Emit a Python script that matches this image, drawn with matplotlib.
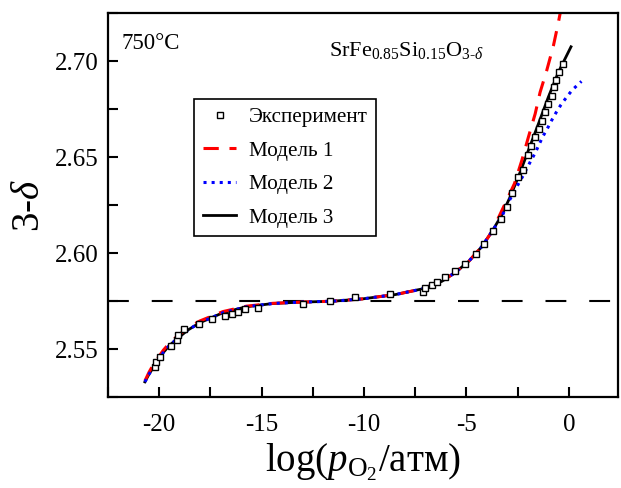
import matplotlib
matplotlib.use('Agg')
import matplotlib.pyplot as plt
from matplotlib.ticker import MultipleLocator

plt.rcParams['font.family'] = ['Liberation Serif', 'DejaVu Serif']
plt.rcParams['mathtext.fontset'] = 'custom'
plt.rcParams['mathtext.rm'] = 'Liberation Serif'
plt.rcParams['mathtext.it'] = 'Liberation Serif:italic'

exp_x = [-20.20, -20.14, -19.97, -19.41, -19.14, -19.08, -18.77, -18.08, -17.44, -16.81,
         -16.46, -16.13, -15.81, -15.17, -12.99, -11.66, -10.45, -8.73, -7.10, -7.04,
         -6.69, -6.43, -6.02, -5.54, -5.06, -4.54, -4.13, -3.71, -3.32, -3.03,
         -2.78, -2.46, -2.22, -1.99, -1.82, -1.65, -1.47, -1.32, -1.17, -0.99,
         -0.82, -0.74, -0.63, -0.49, -0.30]
exp_y = [2.5405, 2.5434, 2.5462, 2.5517, 2.5548, 2.5572, 2.5607, 2.5633, 2.5655, 2.5672,
         2.5686, 2.5695, 2.5707, 2.5717, 2.5733, 2.5750, 2.5773, 2.5785, 2.5797, 2.5817,
         2.5833, 2.5848, 2.5874, 2.5905, 2.5945, 2.5997, 2.6049, 2.6116, 2.6177, 2.6239,
         2.6315, 2.6398, 2.6434, 2.6514, 2.6558, 2.6605, 2.6648, 2.6691, 2.6734, 2.6778,
         2.6817, 2.6864, 2.6904, 2.6945, 2.6985]

# model curves (traced)
m1_x = [-20.70, -20.50, -20.29, -19.80, -19.50, -19.15, -18.60, -18.02, -16.89, -15.75,
        -14.46, -13.16, -11.54, -10.08, -8.45, -7.16, -6.19, -5.54, -4.89, -4.24,
        -3.75, -3.10, -2.65, -2.29, -1.97, -1.64, -1.40, -1.08, -0.75, -0.51, -0.40]
m1_y = [2.5335, 2.5380, 2.5420, 2.5495, 2.5532, 2.5565, 2.5612, 2.5647, 2.5696, 2.5724,
        2.5739, 2.5745, 2.5750, 2.5762, 2.5785, 2.5814, 2.5854, 2.5900, 2.5957, 2.6035,
        2.6113, 2.6260, 2.6363, 2.6484, 2.6605, 2.6726, 2.6838, 2.6950, 2.7080, 2.7200, 2.7260]

m2_x = [-20.70, -20.50, -20.29, -19.80, -19.50, -19.15, -18.60, -18.02, -16.89, -15.75,
        -14.46, -13.16, -11.54, -10.08, -8.45, -7.16, -6.19, -5.54, -4.89, -4.24,
        -3.75, -3.27, -2.94, -2.70, -2.49, -2.26, -2.05, -1.84, -1.64, -1.45, -1.26,
        -1.05, -0.84, -0.61, -0.38, -0.11, 0.17, 0.62]
m2_y = [2.5330, 2.5370, 2.5405, 2.5483, 2.5520, 2.5552, 2.5600, 2.5638, 2.5690, 2.5721,
        2.5738, 2.5745, 2.5750, 2.5762, 2.5785, 2.5814, 2.5854, 2.5900, 2.5957, 2.6035,
        2.6113, 2.6190, 2.6268, 2.6312, 2.6355, 2.6398, 2.6441, 2.6484, 2.6522, 2.6566, 2.6609,
        2.6648, 2.6691, 2.6734, 2.6773, 2.6812, 2.6850, 2.6895]

m3_x = [-20.70, -20.50, -20.29, -19.80, -19.50, -19.15, -18.60, -18.02, -16.89, -15.75,
        -14.46, -13.16, -11.54, -10.08, -8.45, -7.16, -6.19, -5.54, -4.89, -4.24,
        -3.75, -3.27, -2.86, -2.46, -1.97, -1.48, -1.00, -0.51, 0.11]
m3_y = [2.5330, 2.5370, 2.5405, 2.5483, 2.5520, 2.5552, 2.5600, 2.5638, 2.5690, 2.5721,
        2.5738, 2.5745, 2.5750, 2.5762, 2.5785, 2.5814, 2.5854, 2.5900, 2.5957, 2.6035,
        2.6113, 2.6199, 2.6294, 2.6398, 2.6536, 2.6674, 2.6812, 2.6942, 2.7075]

ref_level = 2.575

fig = plt.figure(figsize=(6.21, 4.88), dpi=100)
ax = fig.add_axes([0.174, 0.186, 0.821, 0.787])

ax.axhline(ref_level, color='black', lw=1.5, dashes=(10, 11))
ax.plot(m3_x, m3_y, color='black', lw=2, label='Модель 3')
ax.plot(m1_x, m1_y, color='red', lw=2.2, dashes=(5, 3.5), label='Модель 1')
ax.plot(m2_x, m2_y, color='blue', lw=2.2, ls=':', label='Модель 2')
ax.plot(exp_x, exp_y, ls='none', marker='s', ms=5, mfc='white', mec='black', mew=1,
        label='Эксперимент')

ax.set_xlim(-22.5, 2.4)
ax.set_ylim(2.525, 2.725)
ax.xaxis.set_major_locator(MultipleLocator(5))
ax.xaxis.set_minor_locator(MultipleLocator(2.5))
ax.yaxis.set_major_locator(MultipleLocator(0.05))
ax.yaxis.set_minor_locator(MultipleLocator(0.025))
ax.yaxis.set_major_formatter(plt.FormatStrFormatter('%.2f'))
ax.xaxis.set_major_formatter(plt.FuncFormatter(lambda v, p: '%d' % v if v != 0 else '0'))
ax.tick_params(which='both', direction='in', length=7, width=1.5, labelsize=18,
               top=False, right=False)
ax.tick_params(axis='y', pad=7)
ax.tick_params(axis='x', pad=12)
for s in ax.spines.values():
    s.set_linewidth(1.6)

ax.set_xlabel(r'log($p_{\mathrm{O}_2}$/атм)', fontsize=28, labelpad=4)
ax.set_ylabel(r'3-$\delta$', fontsize=28, labelpad=5)

ax.text(0.026, 0.907, '750°C', transform=ax.transAxes, fontsize=16.5, va='baseline')
ax.text(0.433, 0.888, r'SrFe$_{\mathrm{0.85}}$Si$_{\mathrm{0.15}}$O$_{\mathrm{3\text{-}}\delta}$',
        transform=ax.transAxes, fontsize=16, va='baseline')

h, l = ax.get_legend_handles_labels()
order = [3, 1, 2, 0]
leg = ax.legend([h[i] for i in order], [l[i] for i in order], loc='upper left',
                bbox_to_anchor=(0.169, 0.777), borderaxespad=0, fontsize=15.2,
                handlelength=1.6, handletextpad=0.6, labelspacing=0.65,
                numpoints=1, fancybox=False, framealpha=1, edgecolor='black')
leg.get_frame().set_linewidth(1.2)

fig.savefig('out.png', dpi=100)
